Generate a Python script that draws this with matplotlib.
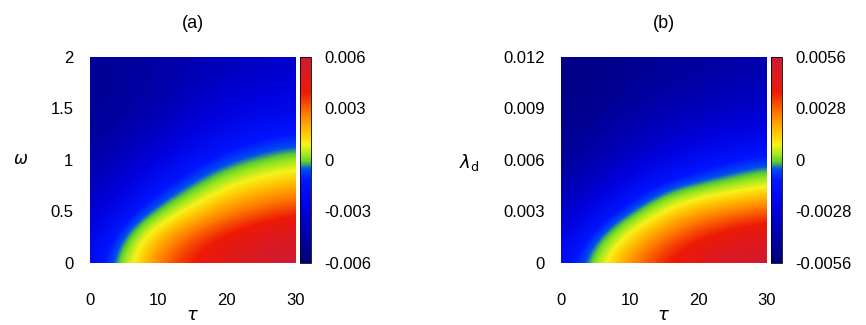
import numpy as np
import matplotlib
matplotlib.use('Agg')
import matplotlib.pyplot as plt
from matplotlib.colors import LinearSegmentedColormap

plt.rcParams['font.family'] = ['Liberation Sans', 'DejaVu Sans']

# grid nodes
tau = [0, 5, 10, 15, 20, 25, 30]
omega = [0, 0.25, 0.5, 0.75, 1.0, 1.25, 1.5, 1.75, 2.0]
lam = [0, 0.0015, 0.003, 0.0045, 0.006, 0.0075, 0.009, 0.0105, 0.012]

# panel (a) values, x1e-3, rows = omega, cols = tau
val_a = [
    [-2.3, 0.4, 2.9, 4.1, 4.9, 5.4, 5.8],
    [-2.8, -0.5, 1.9, 3.3, 4.2, 4.9, 5.3],
    [-3.5, -1.9, -0.2, 1.3, 2.5, 3.2, 3.7],
    [-4.1, -3.0, -1.6, -0.4, 0.8, 1.5, 2.0],
    [-4.6, -3.9, -2.8, -1.7, -0.8, -0.2, 0.25],
    [-5.0, -4.5, -3.7, -2.8, -2.0, -1.5, -1.2],
    [-5.2, -4.9, -4.3, -3.6, -3.0, -2.6, -2.3],
    [-5.2, -5.0, -4.6, -4.1, -3.6, -3.3, -3.1],
    [-5.0, -5.0, -4.7, -4.4, -4.0, -3.7, -3.5],
]

# panel (b) values, x1e-3, rows = lambda_d, cols = tau
val_b = [
    [-2.0, 0.3, 2.5, 3.7, 4.6, 5.2, 5.5],
    [-2.8, -0.7, 1.2, 2.7, 3.6, 4.2, 4.6],
    [-3.6, -2.1, -0.6, 0.9, 2.0, 2.6, 3.0],
    [-4.2, -3.3, -2.2, -0.9, -0.3, 0.2, 0.7],
    [-4.7, -4.1, -3.3, -2.5, -1.8, -1.2, -0.8],
    [-5.0, -4.6, -4.0, -3.5, -3.0, -2.6, -2.3],
    [-5.1, -4.9, -4.5, -4.1, -3.8, -3.5, -3.2],
    [-5.2, -5.1, -4.8, -4.5, -4.3, -4.0, -3.8],
    [-5.2, -5.2, -5.0, -4.8, -4.6, -4.4, -4.2],
]

ticks_a = [-0.006, -0.003, 0, 0.003, 0.006]
ticks_b = [-0.0056, -0.0028, 0, 0.0028, 0.0056]

cmap = LinearSegmentedColormap.from_list('pm', [
    (0.0, (0.0, 0.0, 0.48)),
    (0.25, (0.0, 0.0, 0.86)),
    (0.40, (0.0, 0.08, 1.0)),
    (0.455, (0.0, 0.3, 0.95)),
    (0.49, (0.35, 0.8, 0.2)),
    (0.52, (0.6, 0.9, 0.12)),
    (0.575, (0.97, 0.95, 0.1)),
    (0.64, (1.0, 0.75, 0.0)),
    (0.72, (1.0, 0.5, 0.0)),
    (0.83, (0.93, 0.1, 0.02)),
    (1.0, (0.8, 0.1, 0.22)),
])

fig = plt.figure(figsize=(8.66, 3.25), dpi=100)


def panel(left, cleft, vals, yvals, ticks, yticks, ylabels, title):
    ax = fig.add_axes([left, 0.191, 0.237, 0.634])
    cax = fig.add_axes([cleft, 0.191, 0.0127, 0.634])
    z = np.array(vals) * 1e-3
    dx = (tau[1] - tau[0]) / 2
    dy = (yvals[1] - yvals[0]) / 2
    im = ax.imshow(z, origin='lower', aspect='auto', cmap=cmap,
                   vmin=ticks[0], vmax=ticks[-1],
                   interpolation='bicubic', interpolation_stage='data',
                   extent=[tau[0] - dx, tau[-1] + dx, yvals[0] - dy, yvals[-1] + dy])
    ax.set_xlim(tau[0], tau[-1])
    ax.set_ylim(yvals[0], yvals[-1])
    for s in ax.spines.values():
        s.set_visible(False)
    ax.set_xticks([0, 10, 20, 30])
    ax.set_yticks(yticks)
    ax.set_yticklabels(ylabels)
    ax.tick_params(length=0, labelsize=12)
    ax.tick_params(axis='x', pad=22)
    ax.tick_params(axis='y', pad=12)
    ax.set_title(title, fontsize=13, pad=21)
    ax.set_xlabel(r'$\tau$', fontsize=13, labelpad=-1)
    cb = fig.colorbar(im, cax=cax, ticks=ticks)
    cb.ax.tick_params(length=0, labelsize=12, pad=10)
    cb.ax.set_yticklabels([('%g' % t) if t != 0 else '0' for t in ticks])
    cb.outline.set_linewidth(0.6)
    return ax


ax_a = panel(0.104, 0.346, val_a, omega, ticks_a, [0, 0.5, 1, 1.5, 2],
             ['0', '0.5', '1', '1.5', '2'], '(a)')
ax_b = panel(0.648, 0.890, val_b, lam, ticks_b,
             [0, 0.003, 0.006, 0.009, 0.012],
             ['0', '0.003', '0.006', '0.009', '0.012'], '(b)')

fig.text(0.024, 0.508, r'$\omega$', fontsize=12, ha='center', va='center')
fig.text(0.542, 0.50, r'$\lambda_{\rm d}$', fontsize=13, ha='center', va='center')

fig.savefig('out.png', dpi=100)
